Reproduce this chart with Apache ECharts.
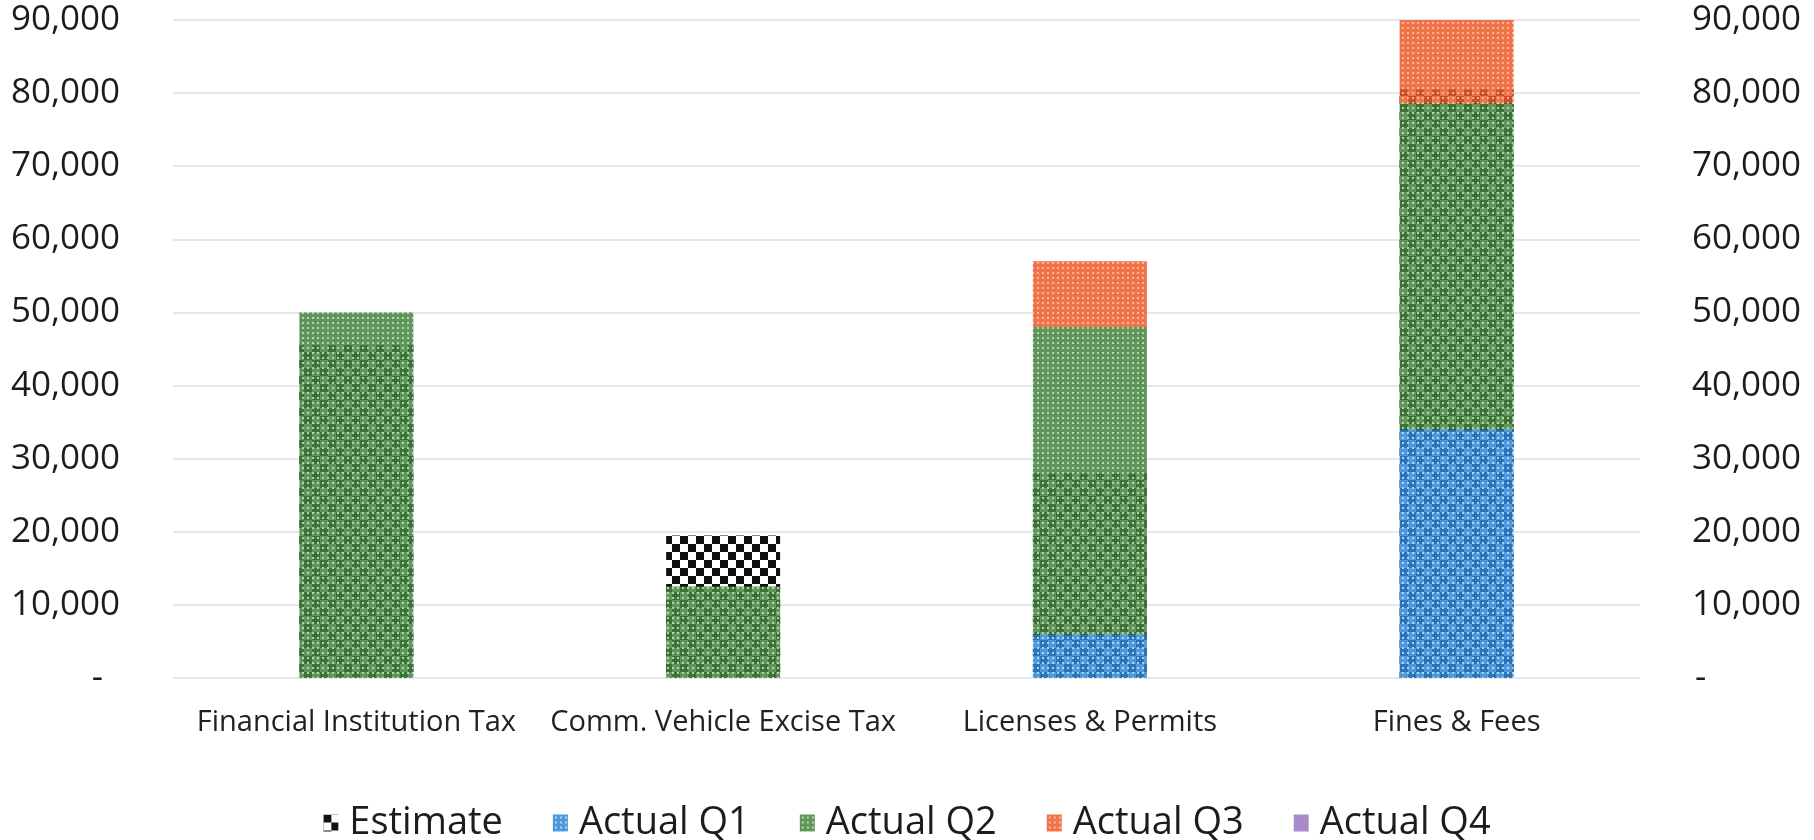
<!DOCTYPE html>
<html>
<head>
<meta charset="utf-8">
<script src="https://cdn.jsdelivr.net/npm/echarts@6/dist/echarts.min.js"></script>
<style>
  html, body { margin: 0; padding: 0; background: #fff; }
  #chart { width: 1814px; height: 840px; }
</style>
</head>
<body>
<div id="chart"></div>
<script>
// data
var categories = ['Financial Institution Tax', 'Comm. Vehicle Excise Tax', 'Licenses & Permits', 'Fines & Fees'];
var estimate = [45500, 19500, 28000, 80500];
var actualQ1 = [0, 0, 6000, 34000];
var actualQ2 = [50000, 12500, 42000, 44600];
var actualQ3 = [0, 0, 9000, 11700];
var actualQ4 = [0, 0, 0, 0];
var yTicks = [0, 10000, 20000, 30000, 40000, 50000, 60000, 70000, 80000, 90000];

// checker for the estimate bars
function checker(size) {
  var c = document.createElement('canvas');
  c.width = size * 2;
  c.height = size * 2;
  var g = c.getContext('2d');
  g.fillStyle = '#ffffff';
  g.fillRect(0, 0, size * 2, size * 2);
  g.fillStyle = '#111111';
  g.fillRect(0, 0, size, size);
  g.fillRect(size, size, size, size);
  return { image: c, repeat: 'repeat' };
}

// fine grid with light dots, a bit see-through so the checker shows under it
function dots(base, light, alpha) {
  var c = document.createElement('canvas');
  c.width = 5;
  c.height = 5;
  var g = c.getContext('2d');
  g.globalAlpha = alpha;
  g.fillStyle = base;
  g.fillRect(0, 0, 5, 5);
  g.fillStyle = light;
  g.fillRect(2, 2, 2, 2);
  return { image: c, repeat: 'repeat' };
}

function fmt(v) {
  if (v === 0) return '{z|-}';
  return String(v).replace(/\B(?=(\d{3})+(?!\d))/g, ',');
}

var chart = echarts.init(document.getElementById('chart'));

var tickFont = { fontFamily: 'Open Sans', fontSize: 35, color: '#1c1c1c' };

var option = {
  animation: false,
  grid: { left: 173, right: 174, top: 20, bottom: 162, containLabel: false },
  legend: {
    top: 799,
    left: 'center',
    itemWidth: 15,
    itemHeight: 17,
    itemGap: 50,
    icon: 'rect',
    textStyle: { fontFamily: 'Open Sans', fontSize: 38, color: '#1c1c1c', padding: [0, 0, 0, 6] },
    data: ['Estimate', 'Actual Q1', 'Actual Q2', 'Actual Q3', 'Actual Q4']
  },
  xAxis: {
    type: 'category',
    data: categories,
    axisLine: { show: false },
    axisTick: { show: false },
    axisLabel: { interval: 0, margin: 30, fontFamily: 'Open Sans', fontSize: 29, color: '#222' }
  },
  yAxis: [{
    type: 'value',
    min: yTicks[0],
    max: yTicks[yTicks.length - 1],
    interval: 10000,
    axisLine: { show: false },
    axisTick: { show: false },
    splitLine: { lineStyle: { color: '#d8e0e7', width: 1.5 } },
    axisLabel: Object.assign({
      margin: 53,
      formatter: fmt,
      rich: { z: { fontFamily: 'Open Sans', fontSize: 35, color: '#1c1c1c', padding: [0, 17, 0, 0] } }
    }, tickFont)
  }, {
    type: 'value',
    position: 'right',
    min: yTicks[0],
    max: yTicks[yTicks.length - 1],
    interval: 10000,
    axisLine: { show: false },
    axisTick: { show: false },
    splitLine: { show: false },
    axisLabel: Object.assign({
      margin: 52,
      formatter: fmt,
      rich: { z: { fontFamily: 'Open Sans', fontSize: 35, color: '#1c1c1c', padding: [0, 0, 0, 3] } }
    }, tickFont)
  }],
  series: [{
    name: 'Estimate',
    type: 'bar',
    stack: 'est',
    barWidth: 114,
    itemStyle: { color: checker(8) },
    data: estimate
  }, {
    name: 'Actual Q1',
    type: 'bar',
    stack: 'act',
    barWidth: 114,
    barGap: '-100%',
    itemStyle: { color: dots('#2f86d6', '#bfe0fa', 0.85) },
    data: actualQ1
  }, {
    name: 'Actual Q2',
    type: 'bar',
    stack: 'act',
    barWidth: 114,
    barGap: '-100%',
    itemStyle: { color: dots('#44843f', '#c4e4b8', 0.85) },
    data: actualQ2
  }, {
    name: 'Actual Q3',
    type: 'bar',
    stack: 'act',
    barWidth: 114,
    barGap: '-100%',
    itemStyle: { color: dots('#ef5a2c', '#f9c7a3', 0.85) },
    data: actualQ3
  }, {
    name: 'Actual Q4',
    type: 'bar',
    stack: 'act',
    barWidth: 114,
    barGap: '-100%',
    itemStyle: { color: '#a78bcb' },
    data: actualQ4
  }]
};

chart.setOption(option);
</script>
</body>
</html>
